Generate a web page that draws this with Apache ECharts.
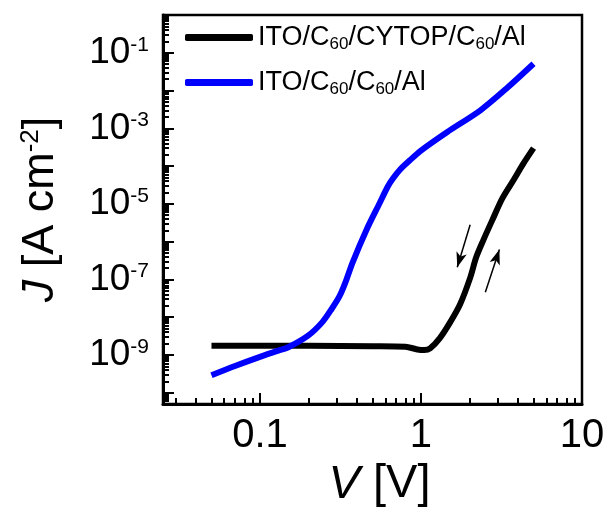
<!DOCTYPE html>
<html>
<head>
<meta charset="utf-8">
<script src="https://cdn.jsdelivr.net/npm/echarts@6/dist/echarts.min.js"></script>
<style>
  html, body { margin: 0; padding: 0; background: #fff; }
  #chart { width: 611px; height: 513px; }
</style>
</head>
<body>
<div id="chart"></div>
<script>
// ITO/C60/CYTOP/C60/Al (black)
const cytopV = [0.05, 0.1, 0.2, 0.5, 0.8, 0.95, 1.05, 1.14, 1.31, 1.52, 1.75, 2.02, 2.2, 2.44, 2.78, 3.2, 3.76, 4.34, 5.0]
const cytopJ = [1.75e-9, 1.75e-9, 1.75e-9, 1.7e-9, 1.65e-9, 1.4e-9, 1.35e-9, 1.5e-9, 2.8e-9, 7.4e-9, 2.2e-8, 1.1e-7, 3.8e-7, 1.1e-6, 3.8e-6, 1.4e-5, 4.3e-5, 1.2e-4, 3e-4]

// ITO/C60/C60/Al (blue)
const refV = [0.05, 0.07, 0.1, 0.13, 0.15, 0.2, 0.244, 0.28, 0.312, 0.34, 0.376, 0.46, 0.555, 0.62, 0.668, 0.74, 0.85, 0.99, 1.45, 2.34, 3.45, 5.0]
const refJ = [2.9e-10, 5.1e-10, 8.9e-10, 1.3e-9, 1.6e-9, 3.3e-9, 7.4e-9, 1.7e-8, 3.6e-8, 8.5e-8, 2.8e-7, 2.1e-6, 1.07e-5, 2.8e-5, 4.6e-5, 8.0e-5, 1.4e-4, 2.5e-4, 7.9e-4, 3e-3, 1.2e-2, 5.1e-2]

// sweep direction arrows [from, to] as [V, J]
const arrowDown = [[2.02, 2.8e-6], [1.68, 2.1e-7]]
const arrowUp = [[2.51, 4.6e-8], [3.07, 6.2e-7]]

const xMajor = [0.1, 1, 10]
const xMinor = [0.03, 0.04, 0.05, 0.06, 0.07, 0.08, 0.09, 0.2, 0.3, 0.4, 0.5, 0.6, 0.7, 0.8, 0.9, 2, 3, 4, 5, 6, 7, 8, 9]
const yMajor = [1e-1, 1e-2, 1e-3, 1e-4, 1e-5, 1e-6, 1e-7, 1e-8, 1e-9, 1e-10]
const yLabels = [1e-1, 1e-3, 1e-5, 1e-7, 1e-9]

const FONT = '"Liberation Sans", Arial, sans-serif'

const yMinor = []
for (let e = -11; e <= -1; e++) {
  for (let m = 2; m <= 9; m++) yMinor.push(m * Math.pow(10, e))
}

const zip = (xs, ys) => xs.map((x, i) => [x, ys[i]])

const chart = echarts.init(document.getElementById('chart'))

const baseX = {
  type: 'log',
  min: 0.025,
  max: 10,
  position: 'bottom',
  splitLine: { show: false },
}
const baseY = {
  type: 'log',
  min: 5e-11,
  max: 1,
  position: 'left',
  splitLine: { show: false },
}

const option = {
  animation: false,
  grid: {
    left: 163, top: 15, right: 29, bottom: 107,
    show: true, borderColor: '#000', borderWidth: 2.5,
  },
  legend: {
    orient: 'vertical',
    left: 180,
    top: 19,
    itemWidth: 68,
    itemHeight: 7,
    itemGap: 16,
    icon: 'roundRect',
    data: ['cytop', 'ref'],
    formatter: (name) => name === 'cytop'
      ? '{n|ITO/C}{s|60}{n|/CYTOP/C}{s|60}{n|/Al}'
      : '{n|ITO/C}{s|60}{n|/C}{s|60}{n|/Al}',
    textStyle: {
      rich: {
        n: { fontFamily: FONT, fontSize: 27, color: '#000', lineHeight: 31 },
        s: { fontFamily: FONT, fontSize: 17, color: '#000', verticalAlign: 'bottom', padding: [14, 0, 0, 0] },
      },
    },
  },
  xAxis: [
    {
      ...baseX,
      name: '{i|V}{n| [V]}',
      nameLocation: 'middle',
      nameGap: 53,
      nameTextStyle: {
        padding: [0, 0, 0, 14],
        rich: {
          i: { fontFamily: FONT, fontSize: 47, fontStyle: 'italic', color: '#000' },
          n: { fontFamily: FONT, fontSize: 47, color: '#000' },
        },
      },
      axisLine: { lineStyle: { color: '#000', width: 3 } },
      axisTick: { inside: true, length: 11, lineStyle: { width: 2, color: '#000' }, customValues: xMajor },
      axisLabel: {
        customValues: xMajor,
        margin: 12,
        fontFamily: FONT, fontSize: 40, color: '#000',
        formatter: (v) => String(v),
      },
    },
    {
      ...baseX,
      axisLine: { show: false },
      axisTick: { inside: true, length: 6, lineStyle: { width: 2, color: '#000' }, customValues: xMinor },
      axisLabel: { show: false },
    },
  ],
  yAxis: [
    {
      ...baseY,
      name: '{i|J}{n| [A cm}{s|-2}{n|]}',
      nameLocation: 'middle',
      nameGap: 100,
      nameTextStyle: {
        rich: {
          i: { fontFamily: FONT, fontSize: 45, fontStyle: 'italic', color: '#000' },
          n: { fontFamily: FONT, fontSize: 45, color: '#000' },
          s: { fontFamily: FONT, fontSize: 26, color: '#000', verticalAlign: 'top', padding: [0, 0, 18, 0] },
        },
      },
      axisLine: { lineStyle: { color: '#000', width: 3 } },
      axisTick: { inside: true, length: 11, lineStyle: { width: 2, color: '#000' }, customValues: yMajor },
      axisLabel: {
        customValues: yLabels,
        margin: 14,
        formatter: (v) => '{b|10}{s|' + Math.round(Math.log10(v)) + '}',
        rich: {
          b: { fontFamily: FONT, fontSize: 37, color: '#000' },
          s: { fontFamily: FONT, fontSize: 21, color: '#000', verticalAlign: 'top', padding: [0, 0, 16, 0] },
        },
      },
    },
    {
      ...baseY,
      axisLine: { show: false },
      axisTick: { inside: true, length: 6, lineStyle: { width: 2, color: '#000' }, customValues: yMinor },
      axisLabel: { show: false },
    },
  ],
  series: [
    {
      name: 'cytop',
      type: 'line',
      xAxisIndex: 0,
      yAxisIndex: 0,
      data: zip(cytopV, cytopJ),
      smooth: 0.3,
      showSymbol: false,
      color: '#000',
      lineStyle: { color: '#000', width: 6 },
      markLine: {
        silent: true,
        symbol: ['none', 'arrow'],
        symbolSize: [8, 15],
        label: { show: false },
        lineStyle: { color: '#000', width: 1.5, type: 'solid' },
        data: [
          [{ coord: arrowDown[0] }, { coord: arrowDown[1] }],
          [{ coord: arrowUp[0] }, { coord: arrowUp[1] }],
        ],
      },
    },
    {
      name: 'ref',
      type: 'line',
      xAxisIndex: 0,
      yAxisIndex: 0,
      data: zip(refV, refJ),
      smooth: 0.3,
      showSymbol: false,
      color: '#0000ff',
      lineStyle: { color: '#0000ff', width: 6 },
    },
  ],
}

chart.setOption(option)
</script>
</body>
</html>
